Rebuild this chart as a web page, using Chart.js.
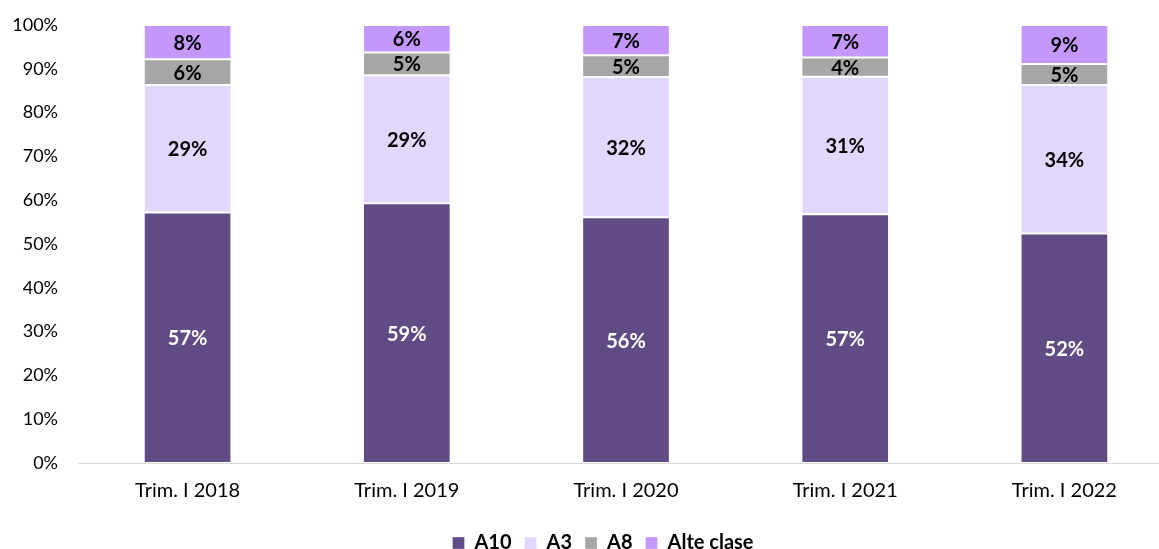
<!DOCTYPE html>
<html>
<head>
<meta charset="utf-8">
<script src="https://cdn.jsdelivr.net/npm/chart.js@4.4.0/dist/chart.umd.min.js"></script>
<style>
    html, body { margin: 0; padding: 0; background: #fff; overflow: hidden; }
    #wrap { width: 1159px; height: 549px; overflow: hidden; position: relative; }
    #box { width: 1180px; height: 549px; position: absolute; left: 0; top: 0; }
</style>
</head>
<body>
<div id="wrap"><div id="box"><canvas id="chart"></canvas></div></div>
<script>
// data (shares in %)
var categories = ['Trim. I 2018', 'Trim. I 2019', 'Trim. I 2020', 'Trim. I 2021', 'Trim. I 2022'];
var seriesNames = ['A10', 'A3', 'A8', 'Alte clase'];
var a10 = [57.2, 59.3, 56.1, 56.8, 52.4];
var a3 = [29.1, 29.2, 32.0, 31.4, 33.9];
var a8 = [5.9, 5.2, 5.0, 4.4, 4.8];
var alteClase = [7.8, 6.3, 6.9, 7.4, 8.9];
var yTicks = [0, 10, 20, 30, 40, 50, 60, 70, 80, 90, 100];

var colors = ['#604B85', '#E3D6FD', '#A6A6A6', '#C497FD'];
var labelColors = ['#ffffff', '#000000', '#000000', '#000000'];
var FONT = 'Lato';

// draws the value labels in the middle of every segment
var segmentLabels = {
    id: 'segmentLabels',
    afterDatasetsDraw: function (chart) {
        var ctx = chart.ctx;
        ctx.save();
        ctx.font = 'bold 20px ' + FONT;
        ctx.textAlign = 'center';
        ctx.textBaseline = 'middle';
        chart.data.datasets.forEach(function (ds, i) {
            var meta = chart.getDatasetMeta(i);
            meta.data.forEach(function (bar, j) {
                ctx.fillStyle = labelColors[i];
                ctx.fillText(Math.round(ds.data[j]) + '%', bar.x, (bar.y + bar.base) / 2 + 1);
            });
        });
        ctx.restore();
    }
};

// legend sits a bit right of the canvas centre in the original
var legendShift = {
    id: 'legendShift',
    afterLayout: function (chart) {
        var lg = chart.legend;
        lg.left += 16;
        lg.right += 16;
        lg.top += 1;
        lg.bottom += 1;
    }
};

var seriesData = [a10, a3, a8, alteClase];
var datasets = seriesNames.map(function (name, i) {
    return {
        label: name,
        data: seriesData[i],
        backgroundColor: colors[i],
        borderColor: 'rgba(255,255,255,0.3)',
        borderWidth: 1,
        borderSkipped: false,
        categoryPercentage: 1,
        barPercentage: 0.4
    };
});

var ctx = document.getElementById('chart').getContext('2d');
var myChart = new Chart(ctx, {
    type: 'bar',
    data: { labels: categories, datasets: datasets },
    options: {
        responsive: true,
        maintainAspectRatio: false,
        animation: false,
        layout: { padding: { top: 25, right: 6, left: 0, bottom: -13 } },
        plugins: {
            tooltip: { enabled: false },
            legend: {
                position: 'bottom',
                labels: {
                    color: '#000',
                    font: { family: FONT, size: 20, weight: 'bold' },
                    boxWidth: 12,
                    boxHeight: 12,
                    padding: 13
                }
            }
        },
        scales: {
            x: {
                stacked: true,
                grid: { display: false, drawTicks: false },
                border: { display: true, color: '#D9D9D9', width: 1 },
                ticks: { color: '#000', font: { family: FONT, size: 20 }, padding: 16 }
            },
            y: {
                stacked: true,
                min: 0,
                max: 100,
                afterFit: function (scale) {
                    scale.width = 78;
                    scale.paddingTop = 0;
                    scale.paddingBottom = 0;
                },
                afterBuildTicks: function (scale) {
                    scale.ticks = yTicks.map(function (v) { return { value: v }; });
                },
                grid: { display: false, drawTicks: false },
                border: { display: false },
                ticks: {
                    color: '#000',
                    font: { family: FONT, size: 18 },
                    padding: 20,
                    callback: function (v) { return v + '%'; }
                }
            }
        }
    },
    plugins: [segmentLabels, legendShift]
});
</script>
</body>
</html>
